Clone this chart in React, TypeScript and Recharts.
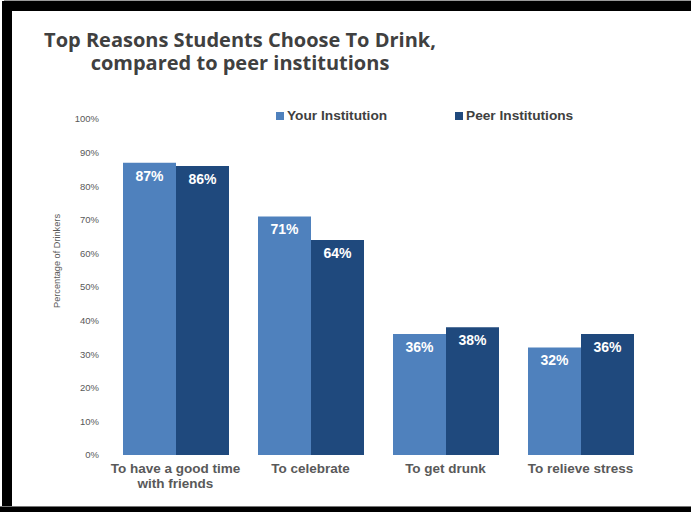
import React from 'react';
import { BarChart, Bar, XAxis, YAxis, Legend, LabelList } from 'recharts';

const categories = ['To have a good time\nwith friends', 'To celebrate', 'To get drunk', 'To relieve stress'];
const yourInstitution = [87, 71, 36, 32];
const peerInstitutions = [86, 64, 38, 36];
const yTicks = [0, 10, 20, 30, 40, 50, 60, 70, 80, 90, 100];

const seriesNames = ['Your Institution', 'Peer Institutions'];
const seriesColors = ['#4F81BD', '#1F497D'];

const data = categories.map((c, i) => ({
  name: c,
  your: yourInstitution[i],
  peer: peerInstitutions[i],
}));

const FONT = '"Liberation Sans", Arial, sans-serif';

const CategoryTick = (props: any) => {
  const { x, y, payload } = props;
  const lines = String(payload.value).split('\n');
  return (
    <text x={x} y={y} textAnchor="middle" fill="#595959" fontSize={13.5} fontWeight={700} fontFamily={FONT}>
      {lines.map((l, i) => (
        <tspan key={i} x={x} dy={i === 0 ? 10 : 15}>
          {l}
        </tspan>
      ))}
    </text>
  );
};

const LegendContent = () => (
  <div style={{ display: 'flex', fontFamily: FONT, fontSize: 13.7, fontWeight: 700, color: '#404040' }}>
    {seriesNames.map((n, i) => (
      <div key={n} style={{ width: 179, display: 'flex', alignItems: 'center' }}>
        <span style={{ display: 'inline-block', width: 8, height: 8, background: seriesColors[i], marginRight: 3 }} />
        <span>{n}</span>
      </div>
    ))}
  </div>
);

const YLabel = () => (
  <text
    x={57}
    y={261}
    transform="rotate(-90, 57, 261)"
    textAnchor="middle"
    dominantBaseline="central"
    fill="#595959"
    fontSize={9.2}
    fontFamily={FONT}
  >
    Percentage of Drinkers
  </text>
);

export default function App() {
  return (
    <div style={{ position: 'absolute', left: 0, top: 0, width: 691, height: 512, background: '#fff', overflow: 'hidden' }}>
      <div style={{ position: 'absolute', left: 4, top: 0, width: 687, height: 1, background: '#9a9a9a' }} />
      <div style={{ position: 'absolute', left: 4, top: 1, width: 687, height: 10, background: '#000' }} />
      <div style={{ position: 'absolute', left: 2, top: 1, width: 10, height: 511, background: '#000' }} />
      <div style={{ position: 'absolute', left: 0, top: 506, width: 691, height: 1, background: '#777' }} />
      <div style={{ position: 'absolute', left: 0, top: 507, width: 691, height: 5, background: '#000' }} />
      <div
        style={{
          position: 'absolute',
          left: 0,
          top: 28,
          width: 480,
          textAlign: 'center',
          fontFamily: '"Open Sans", sans-serif',
          fontWeight: 700,
          fontSize: 20,
          lineHeight: '23px',
          color: '#404040',
        }}
      >
        Top Reasons Students Choose To Drink,
        <br />
        compared to peer institutions
      </div>
      <BarChart
        width={691}
        height={512}
        data={data}
        margin={{ top: 119, right: 43, bottom: 17, left: 0 }}
        barGap={0}
        style={{ position: 'absolute', left: 0, top: 0 }}
      >
        <XAxis
          dataKey="name"
          height={40}
          axisLine={false}
          tickLine={false}
          interval={0}
          tick={<CategoryTick />}
        />
        <YAxis
          width={108}
          domain={[0, 100]}
          ticks={yTicks}
          axisLine={false}
          tickLine={false}
          tickMargin={3}
          tickFormatter={(v: number) => `${v}%`}
          tick={{ fill: '#595959', fontSize: 9.5, fontFamily: FONT }}
          label={<YLabel />}
        />
        <Legend
          verticalAlign="middle"
          align="center"
          wrapperStyle={{ top: 108, left: 276, width: 360 }}
          content={<LegendContent />}
        />
        <Bar dataKey="your" name={seriesNames[0]} fill={seriesColors[0]} barSize={53} isAnimationActive={false}>
          <LabelList
            dataKey="your"
            position="insideTop"
            offset={8}
            fill="#fff"
            fontSize={14}
            fontWeight={700}
            fontFamily={FONT}
            formatter={(v: any) => `${v}%`}
          />
        </Bar>
        <Bar dataKey="peer" name={seriesNames[1]} fill={seriesColors[1]} barSize={53} isAnimationActive={false}>
          <LabelList
            dataKey="peer"
            position="insideTop"
            offset={8}
            fill="#fff"
            fontSize={14}
            fontWeight={700}
            fontFamily={FONT}
            formatter={(v: any) => `${v}%`}
          />
        </Bar>
      </BarChart>
    </div>
  );
}
